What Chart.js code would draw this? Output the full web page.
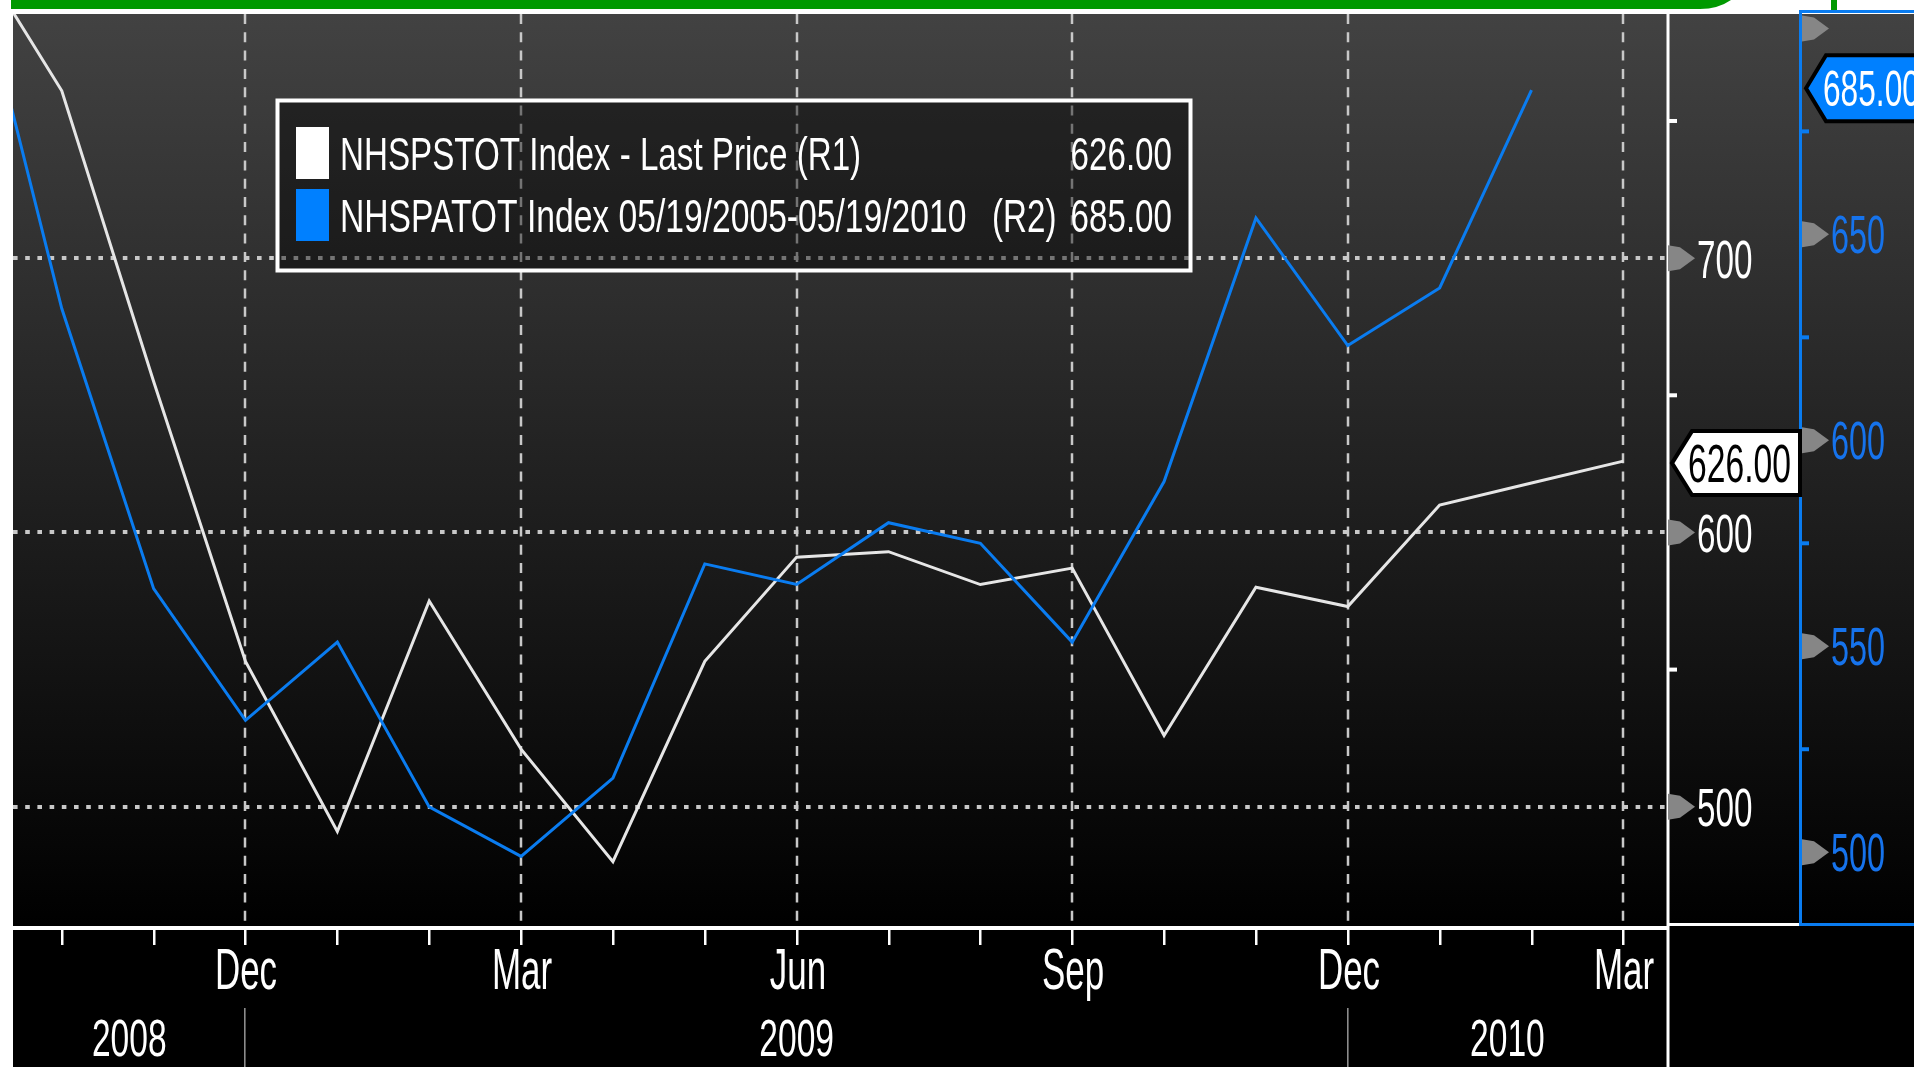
<!DOCTYPE html>
<html>
<head>
<meta charset="utf-8">
<script src="https://cdn.jsdelivr.net/npm/chart.js@4.4.0/dist/chart.umd.min.js"></script>
<style>
  html, body { margin: 0; padding: 0; background: #fff; overflow: hidden; }
  canvas { display: block; }
</style>
</head>
<body>
<canvas id="myChart" width="1914" height="1067"></canvas>
<script>
// one entry per month, Sep 2008 .. Mar 2010
const months = ["Sep", "Oct", "Nov", "Dec", "Jan", "Feb", "Mar", "Apr", "May", "Jun",
  "Jul", "Aug", "Sep", "Oct", "Nov", "Dec", "Jan", "Feb", "Mar"];
const yearLabels = ["2008", "2009", "2010"];
const labeledMonths = ["Dec", "Mar", "Jun", "Sep"];

// NHSPSTOT (white, left scale R1)
const starts = [815, 761, 655, 553, 491, 575, 521, 480, 553, 591, 593, 581, 587, 526, 580, 573, 610, 618, 626];
// NHSPATOT (blue, right scale R2) - ends Feb 2010
const permits = [721, 632, 564, 532, 551, 511, 499, 518, 570, 565, 580, 575, 551, 590, 654, 623, 637, 685];

const r1Ticks = [500, 600, 700];
const r1Minor = [550, 650, 750];
const r2Ticks = [500, 550, 600, 650, 700];
const r2Labels = [500, 550, 600, 650];
const r2Minor = [525, 575, 625, 675];

const legendNames = ["NHSPSTOT Index - Last Price (R1)", "NHSPATOT Index 05/19/2005-05/19/2010"];
const legendSuffix = ["", "(R2)"];
const lastStart = "626.00";
const lastPermit = "685.00";

const BLUE = "#0a7cf0";
const FONT = '"Liberation Sans", Arial, sans-serif';

// condensed text, vertically centred on yMid
function txt(ctx, s, x, yMid, cap, align, color, sx) {
  const size = cap / 0.716;
  ctx.save();
  ctx.font = `${size}px ${FONT}`;
  const w = ctx.measureText(s).width * sx;
  let x0 = x;
  if (align === "center") x0 = x - w / 2;
  if (align === "right") x0 = x - w;
  ctx.translate(x0, yMid + cap / 2);
  ctx.scale(sx, 1);
  ctx.fillStyle = color;
  ctx.textAlign = "left";
  ctx.textBaseline = "alphabetic";
  ctx.fillText(s, 0, 0);
  ctx.restore();
}

function tag(ctx, xPoint, yMid, xBox, xRight, h, fill) {
  ctx.save();
  ctx.beginPath();
  ctx.moveTo(xPoint, yMid);
  ctx.lineTo(xBox, yMid - h / 2);
  ctx.lineTo(xRight, yMid - h / 2);
  ctx.lineTo(xRight, yMid + h / 2);
  ctx.lineTo(xBox, yMid + h / 2);
  ctx.closePath();
  ctx.fillStyle = fill;
  ctx.fill();
  ctx.lineWidth = 4;
  ctx.strokeStyle = "#000";
  ctx.stroke();
  ctx.restore();
}

function arrow(ctx, x, y) {
  ctx.beginPath();
  ctx.moveTo(x, y - 13);
  ctx.lineTo(x + 12, y - 11);
  ctx.lineTo(x + 27, y);
  ctx.lineTo(x + 12, y + 11);
  ctx.lineTo(x, y + 13);
  ctx.closePath();
  ctx.fillStyle = "#868686";
  ctx.fill();
}

const decor = {
  id: "decor",
  beforeDraw(chart) {
    const { ctx, chartArea: a } = chart;
    const W = chart.width, H = chart.height;
    ctx.save();
    ctx.fillStyle = "#fff";
    ctx.fillRect(0, 0, W, H);
    const g = ctx.createLinearGradient(0, a.top, 0, a.bottom);
    g.addColorStop(0, "#424242");
    g.addColorStop(1, "#000");
    ctx.fillStyle = g;
    ctx.fillRect(a.left, a.top, W - a.left, a.bottom - a.top);
    ctx.fillStyle = "#000";
    ctx.fillRect(a.left, a.bottom, W - a.left, H - a.bottom);

    // green strip at the top
    ctx.fillStyle = "#009900";
    ctx.beginPath();
    ctx.moveTo(11, 0);
    ctx.lineTo(1731, 0);
    ctx.quadraticCurveTo(1718, 9, 1700, 9);
    ctx.lineTo(11, 9);
    ctx.closePath();
    ctx.fill();
    ctx.fillRect(1831, 0, 6, 10);
    ctx.restore();
  },
  beforeDatasetsDraw(chart) {
    const { ctx, chartArea: a, scales } = chart;
    ctx.save();
    ctx.strokeStyle = "#c8c8c8";
    ctx.lineWidth = 2.5;
    ctx.setLineDash([10, 8.3]);
    months.forEach((m, i) => {
      if (!labeledMonths.includes(m)) return;
      const x = Math.round(scales.x.getPixelForValue(i));
      if (x < a.left || x > a.right) return;
      ctx.beginPath();
      ctx.moveTo(x, a.top);
      ctx.lineTo(x, a.bottom - 2);
      ctx.stroke();
    });
    ctx.lineWidth = 4;
    ctx.setLineDash([4.6, 7.6]);
    r1Ticks.forEach((v) => {
      const y = Math.round(scales.y1.getPixelForValue(v));
      ctx.beginPath();
      ctx.moveTo(a.left, y);
      ctx.lineTo(a.right, y);
      ctx.stroke();
    });
    ctx.restore();
  },
  afterDatasetsDraw(chart) {
    const { ctx, chartArea: a, scales } = chart;
    const W = chart.width, H = chart.height;
    const xs = scales.x, y1 = scales.y1, y2 = scales.y2;
    const panelR = a.right + 133;
    ctx.save();

    // legend box
    ctx.fillStyle = "rgba(0,0,0,0.42)";
    ctx.fillRect(277, 100, 914, 171);
    ctx.strokeStyle = "#fff";
    ctx.lineWidth = 4;
    ctx.strokeRect(277.5, 100.5, 913, 170);
    ctx.fillStyle = "#fff";
    ctx.fillRect(296, 127, 33, 52);
    ctx.fillStyle = "#0080ff";
    ctx.fillRect(296, 189, 33, 52);
    txt(ctx, legendNames[0], 340, 153, 33, "left", "#fff", 0.72);
    txt(ctx, lastStart, 1172, 153, 33, "right", "#fff", 0.72);
    txt(ctx, legendNames[1], 340, 215, 33, "left", "#fff", 0.73);
    txt(ctx, legendSuffix[1], 992, 215, 33, "left", "#fff", 0.72);
    txt(ctx, lastPermit, 1172, 215, 33, "right", "#fff", 0.72);

    // bottom time axis
    ctx.fillStyle = "#fff";
    ctx.fillRect(a.left, a.bottom - 2, a.right - a.left, 4);
    months.forEach((m, i) => {
      const x = Math.round(xs.getPixelForValue(i));
      if (x < a.left || x > a.right) return;
      ctx.fillStyle = "#fff";
      ctx.fillRect(x - 1, a.bottom + 2, 2.5, 15);
      if (labeledMonths.includes(m)) txt(ctx, m, x + 1, 968, 41, "center", "#fff", 0.61);
    });
    // year row
    const bounds = [xs.getPixelForValue(xs.min)];
    months.forEach((m, i) => {
      if (m === "Dec") bounds.push(xs.getPixelForValue(i));
    });
    bounds.push(xs.getPixelForValue(xs.max));
    ctx.fillStyle = "#8c8c8c";
    for (let k = 1; k < bounds.length - 1; k++) ctx.fillRect(Math.round(bounds[k]) - 1, 1008, 1.6, H - 1008);
    yearLabels.forEach((yr, k) => {
      txt(ctx, yr, (bounds[k] + bounds[k + 1]) / 2, 1037, 37, "center", "#fff", 0.65);
    });

    // R1 panel
    ctx.fillStyle = "#fff";
    ctx.fillRect(a.right - 0.5, a.top, 3, H - a.top);
    ctx.fillRect(a.right, a.bottom - 5, panelR - a.right, 3);
    r1Minor.forEach((v) => {
      const y = y1.getPixelForValue(v);
      ctx.fillStyle = "#fff";
      ctx.fillRect(a.right + 2, y - 2, 8, 4);
    });
    r1Ticks.forEach((v) => {
      const y = y1.getPixelForValue(v);
      arrow(ctx, a.right + 1, y);
      txt(ctx, String(v), a.right + 30, y, 39, "left", "#fff", 0.61);
    });

    // R2 panel
    ctx.fillStyle = BLUE;
    ctx.fillRect(panelR - 1, 10, 3, a.bottom - 12);
    ctx.fillRect(panelR - 1, 10, W - panelR + 1, 3);
    ctx.fillRect(panelR - 1, a.bottom - 5, W - panelR + 1, 3);
    r2Minor.forEach((v) => {
      const y = y2.getPixelForValue(v);
      ctx.fillStyle = BLUE;
      ctx.fillRect(panelR + 2, y - 2, 7, 4);
    });
    r2Ticks.forEach((v) => {
      const y = y2.getPixelForValue(v);
      arrow(ctx, panelR + 2, y);
      if (r2Labels.includes(v)) txt(ctx, String(v), panelR + 31, y, 38, "left", "#1673ec", 0.61);
    });

    // last value tags
    const ys = y1.getPixelForValue(starts[starts.length - 1]);
    tag(ctx, a.right + 5, ys + 2, a.right + 25, panelR, 64, "#fff");
    txt(ctx, lastStart, a.right + 21, ys + 2, 38, "left", "#000", 0.635);
    const yp = y2.getPixelForValue(permits[permits.length - 1]);
    tag(ctx, panelR + 6, yp - 2, panelR + 26, W + 10, 66, "#0080ff");
    txt(ctx, lastPermit, panelR + 23, yp - 2, 36, "left", "#fff", 0.63);

    ctx.restore();
  },
};

const ctx = document.getElementById("myChart").getContext("2d");
const myChart = new Chart(ctx, {
  type: "line",
  data: {
    datasets: [
      {
        label: legendNames[1],
        data: permits.map((v, i) => ({ x: i, y: v })),
        borderColor: BLUE,
        borderWidth: 3,
        pointRadius: 0,
        tension: 0,
        yAxisID: "y2",
        clip: 0,
      },
      {
        label: legendNames[0],
        data: starts.map((v, i) => ({ x: i, y: v })),
        borderColor: "#e6e6e6",
        borderWidth: 3,
        pointRadius: 0,
        tension: 0,
        yAxisID: "y1",
        clip: 0,
      },
    ],
  },
  options: {
    responsive: false,
    animation: false,
    devicePixelRatio: 1,
    layout: { padding: { left: 13, top: 14, right: 247, bottom: 139 } },
    plugins: { legend: { display: false }, tooltip: { enabled: false } },
    scales: {
      x: { type: "linear", min: 0.469, max: 18.475, display: false },
      y1: { type: "linear", position: "right", min: 455.8, max: 789.0, display: false },
      y2: { type: "linear", position: "right", min: 481.6, max: 703.5, display: false },
    },
  },
  plugins: [decor],
});
</script>
</body>
</html>
